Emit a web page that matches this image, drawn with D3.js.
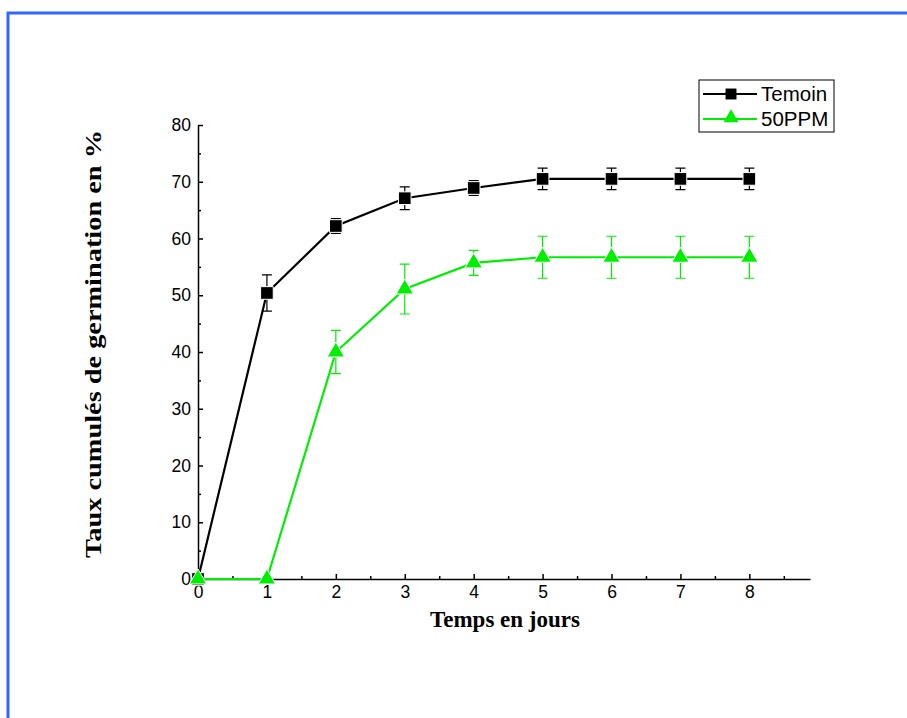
<!DOCTYPE html>
<html>
<head>
<meta charset="utf-8">
<script src="https://cdn.jsdelivr.net/npm/d3@7"></script>
<style>
  body { margin: 0; background: #fff; }
  svg { display: block; }
</style>
</head>
<body>
<svg id="chart" width="907" height="718"></svg>
<script>
var days = [0, 1, 2, 3, 4, 5, 6, 7, 8];
var temoin = [0, 50.4, 62.2, 67.1, 68.9, 70.5, 70.5, 70.5, 70.5];
var temoinErr = [0, 3.2, 1.3, 2.0, 1.3, 1.9, 1.9, 1.9, 1.9];
var ppm50 = [0, 0, 40.0, 51.1, 55.7, 56.7, 56.7, 56.7, 56.7];
var ppm50Err = [0, 0, 3.8, 4.4, 2.2, 3.7, 3.7, 3.7, 3.7];
var xTicks = [0, 1, 2, 3, 4, 5, 6, 7, 8];
var yTicks = [0, 10, 20, 30, 40, 50, 60, 70, 80];

var green = "#00ee00";

var svg = d3.select("#chart");

// page border (cut off at right/bottom)
svg.append("path")
    .attr("d", "M8,718 V13 H907")
    .attr("fill", "none")
    .attr("stroke", "#3366ff")
    .attr("stroke-width", 3);

var x = d3.scaleLinear().domain([0, 8.88]).range([198, 810]);
var y = d3.scaleLinear().domain([0, 80]).range([579, 125]);

// axes with inward ticks
svg.append("g").attr("transform", "translate(0,579)")
    .call(d3.axisBottom(x).tickValues(xTicks).tickSize(-5).tickPadding(7).tickSizeOuter(0));
svg.append("g").attr("transform", "translate(0,579)")
    .call(d3.axisBottom(x).tickValues(d3.range(0.5, 8.9, 1)).tickSize(-3).tickFormat("").tickSizeOuter(0))
    .select(".domain").remove();
svg.append("g").attr("transform", "translate(198,0)")
    .call(d3.axisLeft(y).tickValues(yTicks).tickSize(-5).tickPadding(7).tickSizeOuter(0));
svg.append("g").attr("transform", "translate(198,0)")
    .call(d3.axisLeft(y).tickValues(d3.range(5, 80, 10)).tickSize(-3).tickFormat("").tickSizeOuter(0))
    .select(".domain").remove();

svg.selectAll(".domain, .tick line").attr("stroke", "#000").attr("stroke-width", 1.5);
svg.selectAll(".tick text")
    .attr("font-family", "Liberation Sans, Arial, sans-serif")
    .attr("font-size", 17.5)
    .attr("fill", "#000");

// axis titles
svg.append("text")
    .attr("x", 505).attr("y", 627)
    .attr("text-anchor", "middle")
    .attr("font-family", "Liberation Serif, Times New Roman, serif")
    .attr("font-weight", "bold")
    .attr("font-size", 23)
    .text("Temps en jours");
svg.append("text")
    .attr("transform", "translate(101,344) rotate(-90)")
    .attr("text-anchor", "middle")
    .attr("font-family", "Liberation Serif, Times New Roman, serif")
    .attr("font-weight", "bold")
    .attr("font-size", 23)
    .attr("textLength", 428)
    .attr("lengthAdjust", "spacingAndGlyphs")
    .text("Taux cumulés de germination en %");

var series = [
  { name: "Temoin", values: temoin, err: temoinErr, color: "#000", shape: d3.symbolSquare, size: 160 },
  { name: "50PPM", values: ppm50, err: ppm50Err, color: green, shape: d3.symbolTriangle, size: 130 }
];

var line = d3.line()
    .x(function(d) { return x(d[0]); })
    .y(function(d) { return y(d[1]); });

series.forEach(function(s) {
  var pts = days.map(function(dd, i) { return [dd, s.values[i], s.err[i]]; });
  var g = svg.append("g");
  // error bars
  pts.filter(function(p) { return p[2] > 0; }).forEach(function(p) {
    var cx = x(p[0]), t = y(p[1] + p[2]), b = y(p[1] - p[2]);
    g.append("path")
        .attr("d", "M" + (cx - 5) + "," + t + "H" + (cx + 5) + "M" + cx + "," + t + "V" + b + "M" + (cx - 5) + "," + b + "H" + (cx + 5))
        .attr("fill", "none")
        .attr("stroke", s.color)
        .attr("stroke-width", 1.2);
  });
  g.append("path")
      .datum(pts)
      .attr("d", line)
      .attr("fill", "none")
      .attr("stroke", s.color)
      .attr("stroke-width", 2.2);
  g.selectAll(".m")
      .data(pts)
      .enter().append("path")
      .attr("transform", function(p) { return "translate(" + x(p[0]) + "," + y(p[1]) + ")"; })
      .attr("d", d3.symbol().type(s.shape).size(s.size))
      .attr("fill", s.color)
      .attr("stroke", "#fff")
      .attr("stroke-width", 1);
});

// legend
var lg = svg.append("g").attr("transform", "translate(699,80)");
lg.append("rect")
    .attr("width", 135).attr("height", 52)
    .attr("fill", "#fff").attr("stroke", "#000").attr("stroke-width", 1);
series.forEach(function(s, i) {
  var yy = 14 + i * 25;
  lg.append("line")
      .attr("x1", 4).attr("x2", 58).attr("y1", yy).attr("y2", yy)
      .attr("stroke", s.color).attr("stroke-width", 2);
  lg.append("path")
      .attr("transform", "translate(32," + (yy + (i ? -1 : 0)) + ")")
      .attr("d", d3.symbol().type(s.shape).size(s.size * 0.75))
      .attr("fill", s.color);
  lg.append("text")
      .attr("x", 62).attr("y", yy + 7)
      .attr("font-family", "Liberation Sans, Arial, sans-serif")
      .attr("font-size", 20.5)
      .text(s.name);
});
</script>
</body>
</html>
